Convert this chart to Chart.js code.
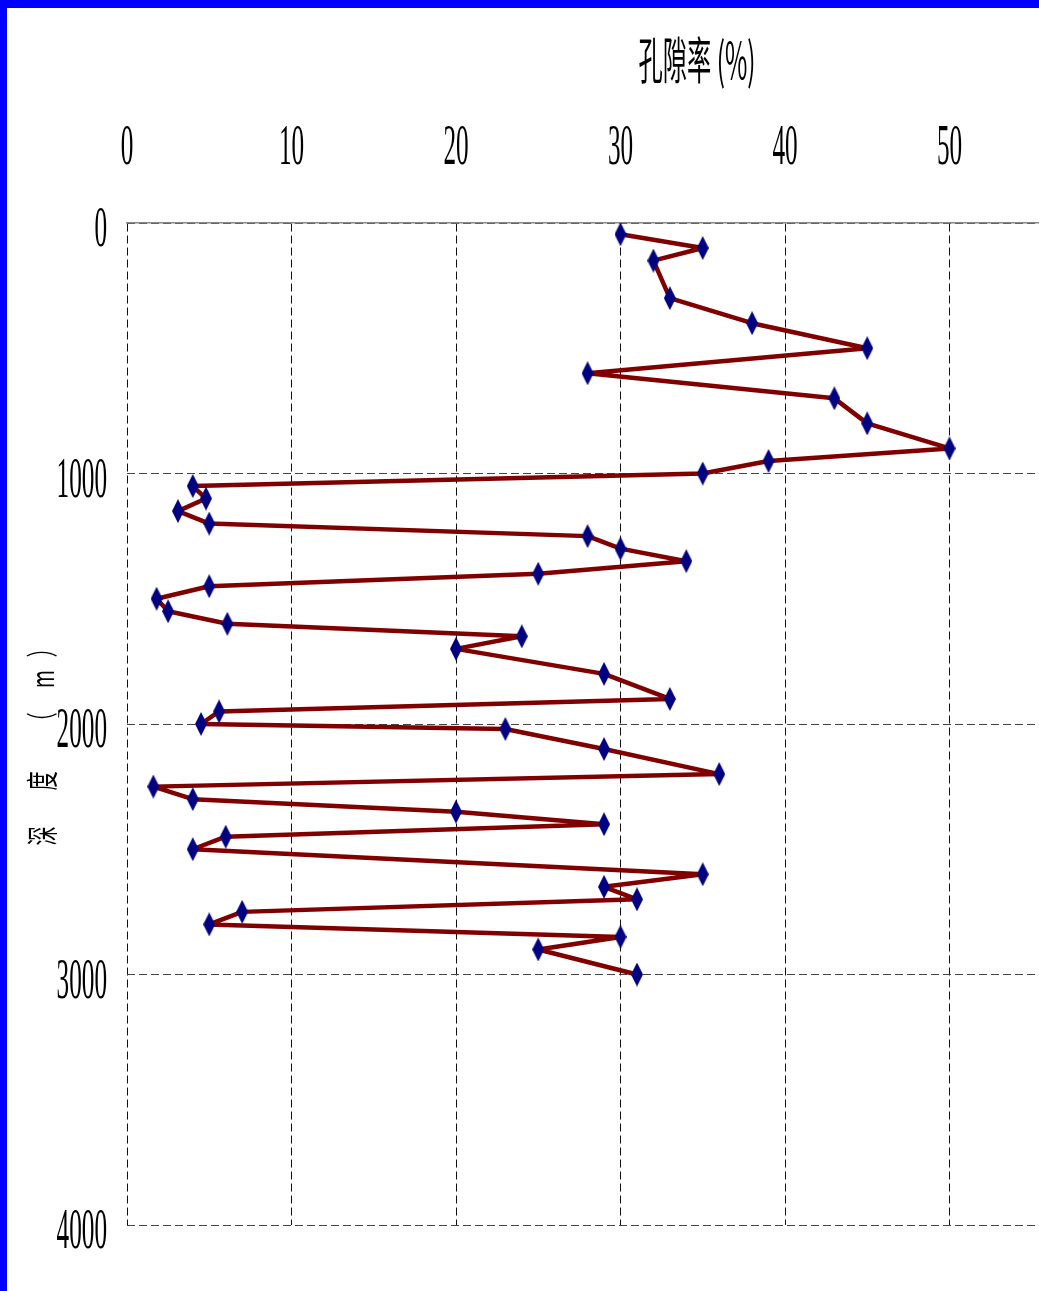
<!DOCTYPE html>
<html>
<head>
<meta charset="utf-8">
<title>孔隙率</title>
<script src="https://cdn.jsdelivr.net/npm/chart.js"></script>
<style>
  html, body { margin: 0; padding: 0; background: #fff; overflow: hidden; }
  #wrap { position: relative; width: 1039px; height: 1291px; overflow: hidden; background: #fff; }
  #porosityChart { position: absolute; left: 0; top: 0; }
  .edge { position: absolute; background: #0000ff; }
  #edgeTop { left: 0; top: 0; width: 1039px; height: 8px; }
  #edgeLeft { left: 0; top: 0; width: 7px; height: 1291px; }
</style>
</head>
<body>
<div id="wrap">
  <canvas id="porosityChart" width="1120" height="1291"></canvas>
  <div class="edge" id="edgeTop"></div>
  <div class="edge" id="edgeLeft"></div>
</div>
<script>
const depths = [45, 100, 150, 300, 400, 500, 600, 700, 800, 900,
  950, 1000, 1050, 1100, 1150, 1200, 1250, 1300, 1350, 1400,
  1450, 1500, 1550, 1600, 1650, 1700, 1800, 1900, 1950, 2000,
  2020, 2100, 2200, 2250, 2300, 2350, 2400, 2450, 2500, 2600,
  2650, 2700, 2750, 2800, 2850, 2900, 3000];
const porosity = [30, 35, 32, 33, 38, 45, 28, 43, 45, 50,
  39, 35, 4, 4.8, 3.1, 5, 28, 30, 34, 25,
  5, 1.8, 2.5, 6.1, 24, 20, 29, 33, 5.6, 4.5,
  23, 29, 36, 1.6, 4, 20, 29, 6, 4, 35,
  29, 31, 7, 5, 30, 25, 31];
const xTickLabels = [0, 10, 20, 30, 40, 50];
const yTickLabels = [0, 1000, 2000, 3000, 4000];
const xTitle = '孔隙率 (%)';
const yTitleChars = ['深', '度', '（', 'm', '）'];

function makeDiamond(w, h, color) {
  const c = document.createElement('canvas');
  c.width = w;
  c.height = h;
  const g = c.getContext('2d');
  g.fillStyle = color;
  g.beginPath();
  g.moveTo(w / 2, 0);
  g.lineTo(w, h / 2);
  g.lineTo(w / 2, h);
  g.lineTo(0, h / 2);
  g.closePath();
  g.fill();
  return c;
}

function narrowText(ctx, text, x, y, font, sx, align) {
  ctx.save();
  ctx.translate(x, y);
  ctx.scale(sx, 1);
  ctx.font = font;
  ctx.textAlign = align;
  ctx.textBaseline = 'alphabetic';
  ctx.fillText(text, 0, 0);
  ctx.restore();
}

const labelsPlugin = {
  id: 'narrowLabels',
  afterDraw(chart) {
    const ctx = chart.ctx;
    const xs = chart.scales.x;
    const ys = chart.scales.y;
    const digitFont = '56px "Liberation Serif", "DejaVu Serif", serif';
    ctx.fillStyle = '#000';

    xTickLabels.forEach(v => {
      narrowText(ctx, String(v), xs.getPixelForValue(v), 164, digitFont, 0.45, 'center');
    });
    yTickLabels.forEach(v => {
      narrowText(ctx, String(v), 107, ys.getPixelForValue(v) + 23, digitFont, 0.45, 'right');
    });

    // top title, squeezed to the width it has in the picture
    ctx.save();
    ctx.font = '50px "Noto Sans CJK SC", sans-serif';
    const w = ctx.measureText(xTitle).width;
    ctx.restore();
    ctx.save();
    ctx.translate(697, 60);
    ctx.scale(117 / w, 1);
    ctx.font = '50px "Noto Sans CJK SC", sans-serif';
    ctx.fillStyle = '#000';
    ctx.textAlign = 'center';
    ctx.textBaseline = 'middle';
    ctx.fillText(xTitle, 0, 0);
    ctx.restore();

    // side title, one rotated glyph at a time
    const yPos = [836, 781, 722, 679, 648];
    yTitleChars.forEach((ch, i) => {
      ctx.save();
      ctx.translate(42, yPos[i]);
      ctx.rotate(-Math.PI / 2);
      ctx.scale(0.6, 1);
      ctx.font = '32px "Noto Sans CJK SC", sans-serif';
      ctx.fillStyle = '#000';
      ctx.textAlign = 'center';
      ctx.textBaseline = 'middle';
      ctx.fillText(ch, 0, 0);
      ctx.restore();
    });
  }
};

function renderPorosityChart() {
  const ctx = document.getElementById('porosityChart').getContext('2d');
  const points = depths.map((d, i) => ({ x: porosity[i], y: d }));

  new Chart(ctx, {
    type: 'scatter',
    data: {
      datasets: [{
        label: '孔隙率',
        data: points,
        showLine: true,
        borderColor: '#800000',
        borderWidth: 4.5,
        borderJoinStyle: 'round',
        borderCapStyle: 'round',
        tension: 0,
        pointStyle: makeDiamond(12, 24, '#000080'),
        pointRadius: 6,
        pointHoverRadius: 6
      }]
    },
    options: {
      responsive: false,
      animation: false,
      events: [],
      layout: {
        autoPadding: false,
        padding: { left: 127, top: 223, right: 6, bottom: 66 }
      },
      plugins: {
        legend: { display: false },
        tooltip: { enabled: false },
        title: { display: false }
      },
      scales: {
        x: {
          type: 'linear',
          position: 'top',
          min: 0,
          max: 60,
          ticks: { display: false, stepSize: 10 },
          grid: { color: '#111', lineWidth: 1, drawTicks: false },
          border: { display: true, color: '#888', width: 1.5, dash: [8, 4] }
        },
        y: {
          type: 'linear',
          reverse: true,
          min: 0,
          max: 4000,
          ticks: { display: false, stepSize: 1000 },
          grid: { color: '#444', lineWidth: 1, drawTicks: false },
          border: { display: false, dash: [8, 4] }
        }
      }
    },
    plugins: [labelsPlugin]
  });
}

renderPorosityChart();
</script>
</body>
</html>
